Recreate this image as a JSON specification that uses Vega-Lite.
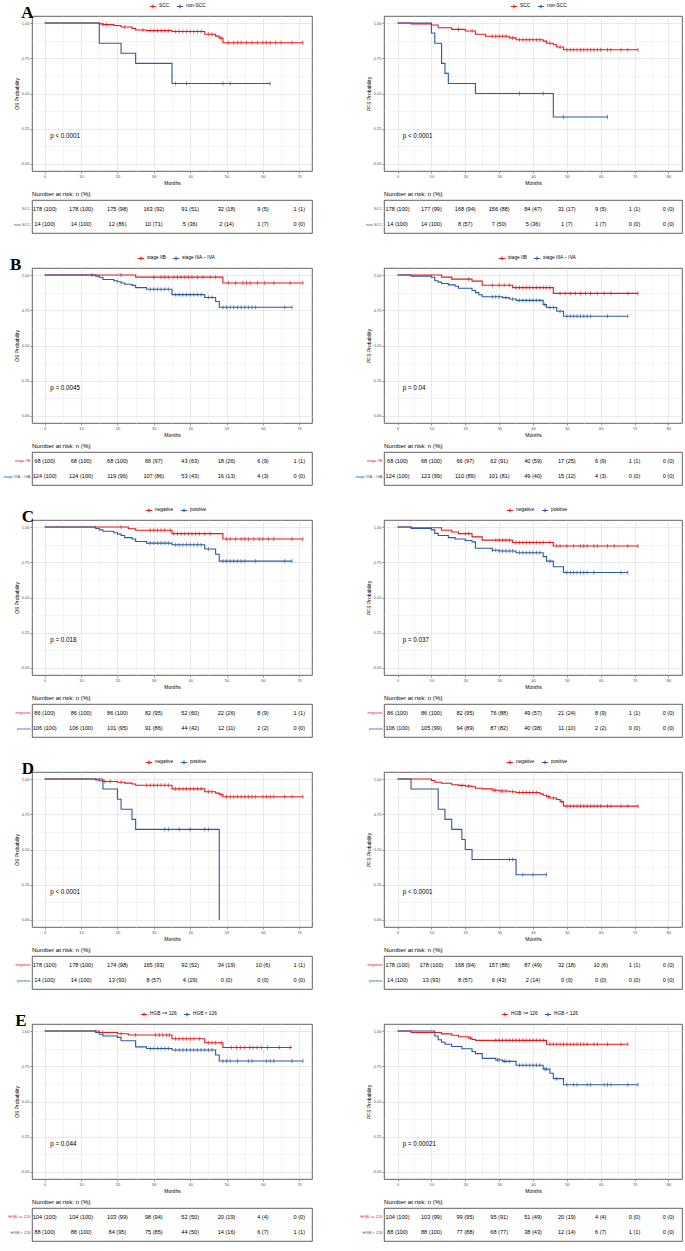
{
"$schema":"https://vega.github.io/schema/vega-lite/v6.json",
"padding":{"left":2,"top":1,"right":1,"bottom":0},
"background":"white",
"config":{
 "font":"Liberation Sans",
 "view":{"stroke":"#3a3a3a","strokeWidth":0.8},
 "axis":{"labelFontSize":4,"labelColor":"#4D4D4D","labelOverlap":false,"labelFlush":false,"titleFontSize":5,"titleFontWeight":"normal","titleColor":"#000","tickColor":"#333","tickSize":2,"tickWidth":0.5,"domain":false,"labelPadding":1,"titlePadding":2,"gridWidth":0.6},
 "legend":{"orient":"none","direction":"horizontal","legendY":-14,"symbolType":"M-1,0L1,0M0,-0.6L0,0.6","symbolSize":40,"symbolStrokeWidth":1,"labelFontSize":4.8,"columnPadding":4,"labelOffset":2},
 "title":{"anchor":"start","frame":"group","fontSize":6.2,"fontWeight":"normal","offset":3,"color":"#000"},
 "line":{"interpolate":"step-after","strokeWidth":1.1},
 "point":{"shape":"M0,-1L0,1","filled":false,"size":16,"strokeWidth":0.7,"opacity":1},
 "text":{"fontSize":5.6,"color":"#000"}
},
"columns":2,
"spacing":{"row":19,"column":41},
"align":"each",
"resolve":{"scale":{"color":"independent","x":"independent","y":"independent"},"legend":{"color":"independent"}},
"datasets":{
"pval":[{"p":"A_OS","label":"p < 0.0001"},{"p":"A_PFS","label":"p < 0.0001"},{"p":"B_OS","label":"p = 0.0045"},{"p":"B_PFS","label":"p = 0.04"},{"p":"C_OS","label":"p = 0.018"},{"p":"C_PFS","label":"p = 0.037"},{"p":"D_OS","label":"p < 0.0001"},{"p":"D_PFS","label":"p < 0.0001"},{"p":"E_OS","label":"p = 0.044"},{"p":"E_PFS","label":"p = 0.00021"}],
"A_OS":[{"g":"SCC","t":0,"s":1},{"g":"SCC","t":15,"s":0.994},{"g":"SCC","t":16,"s":0.989},{"g":"SCC","t":19,"s":0.983},{"g":"SCC","t":21,"s":0.972},{"g":"SCC","t":24,"s":0.962},{"g":"SCC","t":25,"s":0.951},{"g":"SCC","t":28,"s":0.946},{"g":"SCC","t":35,"s":0.94},{"g":"SCC","t":44,"s":0.921},{"g":"SCC","t":47,"s":0.907},{"g":"SCC","t":48,"s":0.893},{"g":"SCC","t":49,"s":0.86},{"g":"SCC","t":71,"s":0.86},
{"g":"non-SCC","t":0,"s":1},{"g":"non-SCC","t":15,"s":0.857},{"g":"non-SCC","t":21,"s":0.786},{"g":"non-SCC","t":25,"s":0.714},{"g":"non-SCC","t":35,"s":0.571},{"g":"non-SCC","t":62,"s":0.571}],
"A_OS_c":[{"g":"SCC","t":16,"s":0.989},{"g":"SCC","t":17,"s":0.989},{"g":"SCC","t":22,"s":0.972},{"g":"SCC","t":27,"s":0.951},{"g":"SCC","t":29,"s":0.946},{"g":"SCC","t":30,"s":0.946},{"g":"SCC","t":31,"s":0.946},{"g":"SCC","t":32,"s":0.946},{"g":"SCC","t":33,"s":0.946},{"g":"SCC","t":34,"s":0.946},{"g":"SCC","t":36,"s":0.94},{"g":"SCC","t":37,"s":0.94},{"g":"SCC","t":38,"s":0.94},{"g":"SCC","t":39,"s":0.94},{"g":"SCC","t":40,"s":0.94},{"g":"SCC","t":41,"s":0.94},{"g":"SCC","t":42,"s":0.94},{"g":"SCC","t":43,"s":0.94},{"g":"SCC","t":45,"s":0.921},{"g":"SCC","t":46,"s":0.921},{"g":"SCC","t":48.5,"s":0.893},{"g":"SCC","t":50.5,"s":0.86},{"g":"SCC","t":52,"s":0.86},{"g":"SCC","t":53,"s":0.86},{"g":"SCC","t":54,"s":0.86},{"g":"SCC","t":55.5,"s":0.86},{"g":"SCC","t":57,"s":0.86},{"g":"SCC","t":58.5,"s":0.86},{"g":"SCC","t":60,"s":0.86},{"g":"SCC","t":61,"s":0.86},{"g":"SCC","t":62,"s":0.86},{"g":"SCC","t":63.5,"s":0.86},{"g":"SCC","t":65,"s":0.86},{"g":"SCC","t":68,"s":0.86},{"g":"SCC","t":71,"s":0.86},
{"g":"non-SCC","t":36,"s":0.571},{"g":"non-SCC","t":39,"s":0.571},{"g":"non-SCC","t":49,"s":0.571},{"g":"non-SCC","t":51,"s":0.571},{"g":"non-SCC","t":62,"s":0.571}],
"A_OS_r":[{"g":"SCC","t":0,"n":"178 (100)"},{"g":"SCC","t":10,"n":"178 (100)"},{"g":"SCC","t":20,"n":"175 (98)"},{"g":"SCC","t":30,"n":"163 (92)"},{"g":"SCC","t":40,"n":"91 (51)"},{"g":"SCC","t":50,"n":"32 (18)"},{"g":"SCC","t":60,"n":"9 (5)"},{"g":"SCC","t":70,"n":"1 (1)"},
{"g":"non-SCC","t":0,"n":"14 (100)"},{"g":"non-SCC","t":10,"n":"14 (100)"},{"g":"non-SCC","t":20,"n":"12 (86)"},{"g":"non-SCC","t":30,"n":"10 (71)"},{"g":"non-SCC","t":40,"n":"5 (36)"},{"g":"non-SCC","t":50,"n":"2 (14)"},{"g":"non-SCC","t":60,"n":"1 (7)"},{"g":"non-SCC","t":70,"n":"0 (0)"}],
"A_PFS":[{"g":"SCC","t":0,"s":1},{"g":"SCC","t":4,"s":0.994},{"g":"SCC","t":10,"s":0.986},{"g":"SCC","t":12,"s":0.967},{"g":"SCC","t":16,"s":0.955},{"g":"SCC","t":20,"s":0.944},{"g":"SCC","t":23,"s":0.92},{"g":"SCC","t":26,"s":0.906},{"g":"SCC","t":33,"s":0.895},{"g":"SCC","t":35,"s":0.881},{"g":"SCC","t":43,"s":0.872},{"g":"SCC","t":44,"s":0.857},{"g":"SCC","t":46,"s":0.846},{"g":"SCC","t":47,"s":0.83},{"g":"SCC","t":49,"s":0.81},{"g":"SCC","t":71,"s":0.81},
{"g":"non-SCC","t":0,"s":1},{"g":"non-SCC","t":10,"s":0.929},{"g":"non-SCC","t":11,"s":0.857},{"g":"non-SCC","t":13,"s":0.714},{"g":"non-SCC","t":14,"s":0.643},{"g":"non-SCC","t":15,"s":0.571},{"g":"non-SCC","t":23,"s":0.5},{"g":"non-SCC","t":46,"s":0.333},{"g":"non-SCC","t":62,"s":0.333}],
"A_PFS_c":[{"g":"SCC","t":18,"s":0.955},{"g":"SCC","t":22,"s":0.944},{"g":"SCC","t":28,"s":0.906},{"g":"SCC","t":29,"s":0.906},{"g":"SCC","t":30,"s":0.906},{"g":"SCC","t":31,"s":0.906},{"g":"SCC","t":32,"s":0.906},{"g":"SCC","t":34,"s":0.895},{"g":"SCC","t":36,"s":0.881},{"g":"SCC","t":37,"s":0.881},{"g":"SCC","t":38,"s":0.881},{"g":"SCC","t":39,"s":0.881},{"g":"SCC","t":40,"s":0.881},{"g":"SCC","t":41,"s":0.881},{"g":"SCC","t":42,"s":0.881},{"g":"SCC","t":45,"s":0.857},{"g":"SCC","t":48,"s":0.83},{"g":"SCC","t":50,"s":0.81},{"g":"SCC","t":51,"s":0.81},{"g":"SCC","t":52,"s":0.81},{"g":"SCC","t":53,"s":0.81},{"g":"SCC","t":54,"s":0.81},{"g":"SCC","t":55,"s":0.81},{"g":"SCC","t":56,"s":0.81},{"g":"SCC","t":57,"s":0.81},{"g":"SCC","t":58,"s":0.81},{"g":"SCC","t":59,"s":0.81},{"g":"SCC","t":60,"s":0.81},{"g":"SCC","t":62,"s":0.81},{"g":"SCC","t":63,"s":0.81},{"g":"SCC","t":66,"s":0.81},{"g":"SCC","t":68,"s":0.81},{"g":"SCC","t":71,"s":0.81},
{"g":"non-SCC","t":36,"s":0.5},{"g":"non-SCC","t":43,"s":0.5},{"g":"non-SCC","t":49,"s":0.333},{"g":"non-SCC","t":62,"s":0.333}],
"A_PFS_r":[{"g":"SCC","t":0,"n":"178 (100)"},{"g":"SCC","t":10,"n":"177 (99)"},{"g":"SCC","t":20,"n":"168 (94)"},{"g":"SCC","t":30,"n":"156 (88)"},{"g":"SCC","t":40,"n":"84 (47)"},{"g":"SCC","t":50,"n":"31 (17)"},{"g":"SCC","t":60,"n":"9 (5)"},{"g":"SCC","t":70,"n":"1 (1)"},{"g":"SCC","t":80,"n":"0 (0)"},
{"g":"non-SCC","t":0,"n":"14 (100)"},{"g":"non-SCC","t":10,"n":"14 (100)"},{"g":"non-SCC","t":20,"n":"8 (57)"},{"g":"non-SCC","t":30,"n":"7 (50)"},{"g":"non-SCC","t":40,"n":"5 (36)"},{"g":"non-SCC","t":50,"n":"1 (7)"},{"g":"non-SCC","t":60,"n":"1 (7)"},{"g":"non-SCC","t":70,"n":"0 (0)"},{"g":"non-SCC","t":80,"n":"0 (0)"}],
"B_OS":[{"g":"stage IIB","t":0,"s":1},{"g":"stage IIB","t":25,"s":0.985},{"g":"stage IIB","t":49,"s":0.944},{"g":"stage IIB","t":71,"s":0.944},
{"g":"stage IIIA – IVA","t":0,"s":1},{"g":"stage IIIA – IVA","t":14,"s":0.992},{"g":"stage IIIA – IVA","t":15,"s":0.984},{"g":"stage IIIA – IVA","t":16,"s":0.968},{"g":"stage IIIA – IVA","t":19,"s":0.96},{"g":"stage IIIA – IVA","t":20,"s":0.952},{"g":"stage IIIA – IVA","t":21,"s":0.944},{"g":"stage IIIA – IVA","t":22,"s":0.935},{"g":"stage IIIA – IVA","t":24,"s":0.927},{"g":"stage IIIA – IVA","t":25,"s":0.911},{"g":"stage IIIA – IVA","t":28,"s":0.899},{"g":"stage IIIA – IVA","t":35,"s":0.861},{"g":"stage IIIA – IVA","t":44,"s":0.841},{"g":"stage IIIA – IVA","t":47,"s":0.812},{"g":"stage IIIA – IVA","t":48,"s":0.771},{"g":"stage IIIA – IVA","t":68,"s":0.771}],
"B_OS_c":[{"g":"stage IIB","t":13,"s":1},{"g":"stage IIB","t":21,"s":1},{"g":"stage IIB","t":30,"s":0.985},{"g":"stage IIB","t":32,"s":0.985},{"g":"stage IIB","t":33,"s":0.985},{"g":"stage IIB","t":34,"s":0.985},{"g":"stage IIB","t":35.5,"s":0.985},{"g":"stage IIB","t":36.5,"s":0.985},{"g":"stage IIB","t":37.5,"s":0.985},{"g":"stage IIB","t":38.5,"s":0.985},{"g":"stage IIB","t":39.5,"s":0.985},{"g":"stage IIB","t":40.5,"s":0.985},{"g":"stage IIB","t":42,"s":0.985},{"g":"stage IIB","t":43.5,"s":0.985},{"g":"stage IIB","t":45.5,"s":0.985},{"g":"stage IIB","t":47,"s":0.985},{"g":"stage IIB","t":50.5,"s":0.944},{"g":"stage IIB","t":52.5,"s":0.944},{"g":"stage IIB","t":54.5,"s":0.944},{"g":"stage IIB","t":55.5,"s":0.944},{"g":"stage IIB","t":56.5,"s":0.944},{"g":"stage IIB","t":58.5,"s":0.944},{"g":"stage IIB","t":60.5,"s":0.944},{"g":"stage IIB","t":63,"s":0.944},{"g":"stage IIB","t":67.5,"s":0.944},{"g":"stage IIB","t":71,"s":0.944},
{"g":"stage IIIA – IVA","t":29,"s":0.899},{"g":"stage IIIA – IVA","t":30,"s":0.899},{"g":"stage IIIA – IVA","t":31,"s":0.899},{"g":"stage IIIA – IVA","t":32,"s":0.899},{"g":"stage IIIA – IVA","t":33,"s":0.899},{"g":"stage IIIA – IVA","t":34,"s":0.899},{"g":"stage IIIA – IVA","t":36,"s":0.861},{"g":"stage IIIA – IVA","t":37,"s":0.861},{"g":"stage IIIA – IVA","t":38,"s":0.861},{"g":"stage IIIA – IVA","t":39,"s":0.861},{"g":"stage IIIA – IVA","t":40,"s":0.861},{"g":"stage IIIA – IVA","t":41,"s":0.861},{"g":"stage IIIA – IVA","t":42,"s":0.861},{"g":"stage IIIA – IVA","t":43,"s":0.861},{"g":"stage IIIA – IVA","t":45,"s":0.841},{"g":"stage IIIA – IVA","t":46,"s":0.841},{"g":"stage IIIA – IVA","t":49,"s":0.771},{"g":"stage IIIA – IVA","t":50,"s":0.771},{"g":"stage IIIA – IVA","t":51,"s":0.771},{"g":"stage IIIA – IVA","t":52,"s":0.771},{"g":"stage IIIA – IVA","t":53,"s":0.771},{"g":"stage IIIA – IVA","t":54,"s":0.771},{"g":"stage IIIA – IVA","t":55,"s":0.771},{"g":"stage IIIA – IVA","t":56,"s":0.771},{"g":"stage IIIA – IVA","t":57,"s":0.771},{"g":"stage IIIA – IVA","t":58,"s":0.771},{"g":"stage IIIA – IVA","t":66,"s":0.771},{"g":"stage IIIA – IVA","t":68,"s":0.771}],
"B_OS_r":[{"g":"stage IIB","t":0,"n":"68 (100)"},{"g":"stage IIB","t":10,"n":"68 (100)"},{"g":"stage IIB","t":20,"n":"68 (100)"},{"g":"stage IIB","t":30,"n":"66 (97)"},{"g":"stage IIB","t":40,"n":"43 (63)"},{"g":"stage IIB","t":50,"n":"18 (26)"},{"g":"stage IIB","t":60,"n":"6 (9)"},{"g":"stage IIB","t":70,"n":"1 (1)"},
{"g":"stage IIIA – IVA","t":0,"n":"124 (100)"},{"g":"stage IIIA – IVA","t":10,"n":"124 (100)"},{"g":"stage IIIA – IVA","t":20,"n":"119 (96)"},{"g":"stage IIIA – IVA","t":30,"n":"107 (86)"},{"g":"stage IIIA – IVA","t":40,"n":"53 (43)"},{"g":"stage IIIA – IVA","t":50,"n":"16 (13)"},{"g":"stage IIIA – IVA","t":60,"n":"4 (3)"},{"g":"stage IIIA – IVA","t":70,"n":"0 (0)"}],
"B_PFS":[{"g":"stage IIB","t":0,"s":1},{"g":"stage IIB","t":13,"s":0.985},{"g":"stage IIB","t":16,"s":0.971},{"g":"stage IIB","t":22,"s":0.957},{"g":"stage IIB","t":25,"s":0.928},{"g":"stage IIB","t":34,"s":0.911},{"g":"stage IIB","t":46,"s":0.87},{"g":"stage IIB","t":71,"s":0.87},
{"g":"stage IIIA – IVA","t":0,"s":1},{"g":"stage IIIA – IVA","t":4,"s":0.992},{"g":"stage IIIA – IVA","t":10,"s":0.984},{"g":"stage IIIA – IVA","t":11,"s":0.96},{"g":"stage IIIA – IVA","t":12,"s":0.95},{"g":"stage IIIA – IVA","t":13,"s":0.94},{"g":"stage IIIA – IVA","t":15,"s":0.93},{"g":"stage IIIA – IVA","t":17,"s":0.92},{"g":"stage IIIA – IVA","t":18,"s":0.906},{"g":"stage IIIA – IVA","t":22,"s":0.89},{"g":"stage IIIA – IVA","t":23,"s":0.875},{"g":"stage IIIA – IVA","t":24,"s":0.86},{"g":"stage IIIA – IVA","t":25,"s":0.846},{"g":"stage IIIA – IVA","t":31,"s":0.84},{"g":"stage IIIA – IVA","t":33,"s":0.83},{"g":"stage IIIA – IVA","t":35,"s":0.82},{"g":"stage IIIA – IVA","t":43,"s":0.79},{"g":"stage IIIA – IVA","t":44,"s":0.77},{"g":"stage IIIA – IVA","t":47,"s":0.743},{"g":"stage IIIA – IVA","t":49,"s":0.708},{"g":"stage IIIA – IVA","t":68,"s":0.708}],
"B_PFS_c":[{"g":"stage IIB","t":21,"s":0.971},{"g":"stage IIB","t":28,"s":0.928},{"g":"stage IIB","t":30,"s":0.928},{"g":"stage IIB","t":31.5,"s":0.928},{"g":"stage IIB","t":33,"s":0.928},{"g":"stage IIB","t":35,"s":0.911},{"g":"stage IIB","t":36,"s":0.911},{"g":"stage IIB","t":37,"s":0.911},{"g":"stage IIB","t":38,"s":0.911},{"g":"stage IIB","t":39,"s":0.911},{"g":"stage IIB","t":40,"s":0.911},{"g":"stage IIB","t":41,"s":0.911},{"g":"stage IIB","t":42,"s":0.911},{"g":"stage IIB","t":43,"s":0.911},{"g":"stage IIB","t":44,"s":0.911},{"g":"stage IIB","t":45,"s":0.911},{"g":"stage IIB","t":48,"s":0.87},{"g":"stage IIB","t":49.5,"s":0.87},{"g":"stage IIB","t":51,"s":0.87},{"g":"stage IIB","t":52.5,"s":0.87},{"g":"stage IIB","t":54,"s":0.87},{"g":"stage IIB","t":55.5,"s":0.87},{"g":"stage IIB","t":57,"s":0.87},{"g":"stage IIB","t":59,"s":0.87},{"g":"stage IIB","t":61,"s":0.87},{"g":"stage IIB","t":63,"s":0.87},{"g":"stage IIB","t":68,"s":0.87},{"g":"stage IIB","t":71,"s":0.87},
{"g":"stage IIIA – IVA","t":28,"s":0.846},{"g":"stage IIIA – IVA","t":29,"s":0.846},{"g":"stage IIIA – IVA","t":30,"s":0.846},{"g":"stage IIIA – IVA","t":32,"s":0.84},{"g":"stage IIIA – IVA","t":34,"s":0.83},{"g":"stage IIIA – IVA","t":36,"s":0.82},{"g":"stage IIIA – IVA","t":37,"s":0.82},{"g":"stage IIIA – IVA","t":38,"s":0.82},{"g":"stage IIIA – IVA","t":39,"s":0.82},{"g":"stage IIIA – IVA","t":40,"s":0.82},{"g":"stage IIIA – IVA","t":41,"s":0.82},{"g":"stage IIIA – IVA","t":42,"s":0.82},{"g":"stage IIIA – IVA","t":43.5,"s":0.79},{"g":"stage IIIA – IVA","t":45,"s":0.77},{"g":"stage IIIA – IVA","t":46,"s":0.77},{"g":"stage IIIA – IVA","t":48,"s":0.743},{"g":"stage IIIA – IVA","t":50,"s":0.708},{"g":"stage IIIA – IVA","t":51,"s":0.708},{"g":"stage IIIA – IVA","t":52,"s":0.708},{"g":"stage IIIA – IVA","t":53,"s":0.708},{"g":"stage IIIA – IVA","t":54,"s":0.708},{"g":"stage IIIA – IVA","t":55,"s":0.708},{"g":"stage IIIA – IVA","t":56,"s":0.708},{"g":"stage IIIA – IVA","t":57,"s":0.708},{"g":"stage IIIA – IVA","t":62,"s":0.708},{"g":"stage IIIA – IVA","t":68,"s":0.708}],
"B_PFS_r":[{"g":"stage IIB","t":0,"n":"68 (100)"},{"g":"stage IIB","t":10,"n":"68 (100)"},{"g":"stage IIB","t":20,"n":"66 (97)"},{"g":"stage IIB","t":30,"n":"62 (91)"},{"g":"stage IIB","t":40,"n":"40 (59)"},{"g":"stage IIB","t":50,"n":"17 (25)"},{"g":"stage IIB","t":60,"n":"6 (9)"},{"g":"stage IIB","t":70,"n":"1 (1)"},{"g":"stage IIB","t":80,"n":"0 (0)"},
{"g":"stage IIIA – IVA","t":0,"n":"124 (100)"},{"g":"stage IIIA – IVA","t":10,"n":"123 (99)"},{"g":"stage IIIA – IVA","t":20,"n":"110 (89)"},{"g":"stage IIIA – IVA","t":30,"n":"101 (81)"},{"g":"stage IIIA – IVA","t":40,"n":"49 (40)"},{"g":"stage IIIA – IVA","t":50,"n":"15 (12)"},{"g":"stage IIIA – IVA","t":60,"n":"4 (3)"},{"g":"stage IIIA – IVA","t":70,"n":"0 (0)"},{"g":"stage IIIA – IVA","t":80,"n":"0 (0)"}],
"C_OS":[{"g":"negative","t":0,"s":1},{"g":"negative","t":23,"s":0.988},{"g":"negative","t":25,"s":0.977},{"g":"negative","t":35,"s":0.953},{"g":"negative","t":49,"s":0.915},{"g":"negative","t":71,"s":0.915},
{"g":"positive","t":0,"s":1},{"g":"positive","t":14,"s":0.99},{"g":"positive","t":15,"s":0.98},{"g":"positive","t":16,"s":0.97},{"g":"positive","t":19,"s":0.96},{"g":"positive","t":20,"s":0.95},{"g":"positive","t":21,"s":0.94},{"g":"positive","t":22,"s":0.925},{"g":"positive","t":24,"s":0.915},{"g":"positive","t":25,"s":0.897},{"g":"positive","t":28,"s":0.886},{"g":"positive","t":35,"s":0.874},{"g":"positive","t":44,"s":0.844},{"g":"positive","t":47,"s":0.807},{"g":"positive","t":48,"s":0.758},{"g":"positive","t":68,"s":0.758}],
"C_OS_c":[{"g":"negative","t":21,"s":1},{"g":"negative","t":29,"s":0.977},{"g":"negative","t":30,"s":0.977},{"g":"negative","t":31,"s":0.977},{"g":"negative","t":32,"s":0.977},{"g":"negative","t":33,"s":0.977},{"g":"negative","t":34.5,"s":0.977},{"g":"negative","t":35.5,"s":0.953},{"g":"negative","t":36.5,"s":0.953},{"g":"negative","t":37.5,"s":0.953},{"g":"negative","t":38.5,"s":0.953},{"g":"negative","t":39.5,"s":0.953},{"g":"negative","t":40.5,"s":0.953},{"g":"negative","t":41.5,"s":0.953},{"g":"negative","t":42.5,"s":0.953},{"g":"negative","t":44,"s":0.953},{"g":"negative","t":45.5,"s":0.953},{"g":"negative","t":50,"s":0.915},{"g":"negative","t":51,"s":0.915},{"g":"negative","t":52.5,"s":0.915},{"g":"negative","t":54,"s":0.915},{"g":"negative","t":55,"s":0.915},{"g":"negative","t":56,"s":0.915},{"g":"negative","t":57.5,"s":0.915},{"g":"negative","t":59,"s":0.915},{"g":"negative","t":60,"s":0.915},{"g":"negative","t":61.5,"s":0.915},{"g":"negative","t":63,"s":0.915},{"g":"negative","t":68,"s":0.915},{"g":"negative","t":71,"s":0.915},
{"g":"positive","t":29,"s":0.886},{"g":"positive","t":30,"s":0.886},{"g":"positive","t":31,"s":0.886},{"g":"positive","t":32,"s":0.886},{"g":"positive","t":33,"s":0.886},{"g":"positive","t":34,"s":0.886},{"g":"positive","t":36,"s":0.874},{"g":"positive","t":37,"s":0.874},{"g":"positive","t":38,"s":0.874},{"g":"positive","t":39,"s":0.874},{"g":"positive","t":40,"s":0.874},{"g":"positive","t":41,"s":0.874},{"g":"positive","t":42,"s":0.874},{"g":"positive","t":43,"s":0.874},{"g":"positive","t":45,"s":0.844},{"g":"positive","t":49,"s":0.758},{"g":"positive","t":50,"s":0.758},{"g":"positive","t":51,"s":0.758},{"g":"positive","t":52,"s":0.758},{"g":"positive","t":53,"s":0.758},{"g":"positive","t":54,"s":0.758},{"g":"positive","t":55,"s":0.758},{"g":"positive","t":58,"s":0.758},{"g":"positive","t":66,"s":0.758},{"g":"positive","t":68,"s":0.758}],
"C_OS_r":[{"g":"negative","t":0,"n":"86 (100)"},{"g":"negative","t":10,"n":"86 (100)"},{"g":"negative","t":20,"n":"86 (100)"},{"g":"negative","t":30,"n":"82 (95)"},{"g":"negative","t":40,"n":"52 (60)"},{"g":"negative","t":50,"n":"22 (26)"},{"g":"negative","t":60,"n":"8 (9)"},{"g":"negative","t":70,"n":"1 (1)"},
{"g":"positive","t":0,"n":"106 (100)"},{"g":"positive","t":10,"n":"106 (100)"},{"g":"positive","t":20,"n":"101 (95)"},{"g":"positive","t":30,"n":"91 (86)"},{"g":"positive","t":40,"n":"44 (42)"},{"g":"positive","t":50,"n":"12 (11)"},{"g":"positive","t":60,"n":"2 (2)"},{"g":"positive","t":70,"n":"0 (0)"}],
"C_PFS":[{"g":"negative","t":0,"s":1},{"g":"negative","t":4,"s":0.995},{"g":"negative","t":13,"s":0.977},{"g":"negative","t":16,"s":0.965},{"g":"negative","t":18,"s":0.953},{"g":"negative","t":22,"s":0.93},{"g":"negative","t":25,"s":0.907},{"g":"negative","t":34,"s":0.89},{"g":"negative","t":46,"s":0.865},{"g":"negative","t":71,"s":0.865},
{"g":"positive","t":0,"s":1},{"g":"positive","t":4,"s":0.99},{"g":"positive","t":10,"s":0.98},{"g":"positive","t":11,"s":0.955},{"g":"positive","t":12,"s":0.94},{"g":"positive","t":15,"s":0.925},{"g":"positive","t":17,"s":0.915},{"g":"positive","t":20,"s":0.905},{"g":"positive","t":22,"s":0.895},{"g":"positive","t":23,"s":0.85},{"g":"positive","t":28,"s":0.835},{"g":"positive","t":30,"s":0.83},{"g":"positive","t":35,"s":0.818},{"g":"positive","t":43,"s":0.79},{"g":"positive","t":44,"s":0.758},{"g":"positive","t":46,"s":0.718},{"g":"positive","t":49,"s":0.677},{"g":"positive","t":68,"s":0.677}],
"C_PFS_c":[{"g":"negative","t":20,"s":0.953},{"g":"negative","t":21,"s":0.953},{"g":"negative","t":29,"s":0.907},{"g":"negative","t":30,"s":0.907},{"g":"negative","t":31,"s":0.907},{"g":"negative","t":32,"s":0.907},{"g":"negative","t":33,"s":0.907},{"g":"negative","t":35,"s":0.89},{"g":"negative","t":36,"s":0.89},{"g":"negative","t":37,"s":0.89},{"g":"negative","t":38,"s":0.89},{"g":"negative","t":39,"s":0.89},{"g":"negative","t":40,"s":0.89},{"g":"negative","t":41,"s":0.89},{"g":"negative","t":42,"s":0.89},{"g":"negative","t":43,"s":0.89},{"g":"negative","t":45,"s":0.89},{"g":"negative","t":47,"s":0.865},{"g":"negative","t":48,"s":0.865},{"g":"negative","t":50,"s":0.865},{"g":"negative","t":52,"s":0.865},{"g":"negative","t":54,"s":0.865},{"g":"negative","t":55,"s":0.865},{"g":"negative","t":56,"s":0.865},{"g":"negative","t":58,"s":0.865},{"g":"negative","t":59,"s":0.865},{"g":"negative","t":62,"s":0.865},{"g":"negative","t":64,"s":0.865},{"g":"negative","t":68,"s":0.865},{"g":"negative","t":71,"s":0.865},
{"g":"positive","t":28,"s":0.835},{"g":"positive","t":29,"s":0.835},{"g":"positive","t":30,"s":0.83},{"g":"positive","t":31,"s":0.83},{"g":"positive","t":32,"s":0.83},{"g":"positive","t":33,"s":0.83},{"g":"positive","t":34,"s":0.83},{"g":"positive","t":36,"s":0.818},{"g":"positive","t":37,"s":0.818},{"g":"positive","t":38,"s":0.818},{"g":"positive","t":39,"s":0.818},{"g":"positive","t":40,"s":0.818},{"g":"positive","t":41,"s":0.818},{"g":"positive","t":42,"s":0.818},{"g":"positive","t":45,"s":0.758},{"g":"positive","t":50,"s":0.677},{"g":"positive","t":51,"s":0.677},{"g":"positive","t":52,"s":0.677},{"g":"positive","t":53,"s":0.677},{"g":"positive","t":54,"s":0.677},{"g":"positive","t":55,"s":0.677},{"g":"positive","t":56,"s":0.677},{"g":"positive","t":58,"s":0.677},{"g":"positive","t":66,"s":0.677},{"g":"positive","t":68,"s":0.677}],
"C_PFS_r":[{"g":"negative","t":0,"n":"86 (100)"},{"g":"negative","t":10,"n":"86 (100)"},{"g":"negative","t":20,"n":"82 (95)"},{"g":"negative","t":30,"n":"76 (88)"},{"g":"negative","t":40,"n":"49 (57)"},{"g":"negative","t":50,"n":"21 (24)"},{"g":"negative","t":60,"n":"8 (9)"},{"g":"negative","t":70,"n":"1 (1)"},{"g":"negative","t":80,"n":"0 (0)"},
{"g":"positive","t":0,"n":"106 (100)"},{"g":"positive","t":10,"n":"105 (99)"},{"g":"positive","t":20,"n":"94 (89)"},{"g":"positive","t":30,"n":"87 (82)"},{"g":"positive","t":40,"n":"40 (38)"},{"g":"positive","t":50,"n":"11 (10)"},{"g":"positive","t":60,"n":"2 (2)"},{"g":"positive","t":70,"n":"0 (0)"},{"g":"positive","t":80,"n":"0 (0)"}],
"D_OS":[{"g":"negative","t":0,"s":1},{"g":"negative","t":14,"s":0.994},{"g":"negative","t":15,"s":0.988},{"g":"negative","t":16,"s":0.983},{"g":"negative","t":20,"s":0.977},{"g":"negative","t":22,"s":0.971},{"g":"negative","t":24,"s":0.965},{"g":"negative","t":25,"s":0.956},{"g":"negative","t":35,"s":0.93},{"g":"negative","t":44,"s":0.91},{"g":"negative","t":47,"s":0.9},{"g":"negative","t":48,"s":0.89},{"g":"negative","t":49,"s":0.874},{"g":"negative","t":71,"s":0.874},
{"g":"positive","t":0,"s":1},{"g":"positive","t":16,"s":0.929},{"g":"positive","t":20,"s":0.857},{"g":"positive","t":21,"s":0.786},{"g":"positive","t":24,"s":0.714},{"g":"positive","t":25,"s":0.643},{"g":"positive","t":48,"s":0}],
"D_OS_c":[{"g":"negative","t":16.5,"s":0.983},{"g":"negative","t":18,"s":0.983},{"g":"negative","t":21,"s":0.977},{"g":"negative","t":28,"s":0.956},{"g":"negative","t":29,"s":0.956},{"g":"negative","t":30,"s":0.956},{"g":"negative","t":31,"s":0.956},{"g":"negative","t":32,"s":0.956},{"g":"negative","t":33,"s":0.956},{"g":"negative","t":34,"s":0.956},{"g":"negative","t":36,"s":0.93},{"g":"negative","t":37,"s":0.93},{"g":"negative","t":38,"s":0.93},{"g":"negative","t":39,"s":0.93},{"g":"negative","t":40,"s":0.93},{"g":"negative","t":41,"s":0.93},{"g":"negative","t":42,"s":0.93},{"g":"negative","t":43,"s":0.93},{"g":"negative","t":45,"s":0.91},{"g":"negative","t":46,"s":0.91},{"g":"negative","t":48.5,"s":0.89},{"g":"negative","t":50,"s":0.874},{"g":"negative","t":51,"s":0.874},{"g":"negative","t":52,"s":0.874},{"g":"negative","t":53,"s":0.874},{"g":"negative","t":54,"s":0.874},{"g":"negative","t":55,"s":0.874},{"g":"negative","t":56,"s":0.874},{"g":"negative","t":57,"s":0.874},{"g":"negative","t":58,"s":0.874},{"g":"negative","t":60,"s":0.874},{"g":"negative","t":61,"s":0.874},{"g":"negative","t":62,"s":0.874},{"g":"negative","t":63,"s":0.874},{"g":"negative","t":66,"s":0.874},{"g":"negative","t":68,"s":0.874},{"g":"negative","t":71,"s":0.874},
{"g":"positive","t":33,"s":0.643},{"g":"positive","t":34,"s":0.643},{"g":"positive","t":37,"s":0.643},{"g":"positive","t":40,"s":0.643},{"g":"positive","t":44,"s":0.643},{"g":"positive","t":45,"s":0.643}],
"D_OS_r":[{"g":"negative","t":0,"n":"178 (100)"},{"g":"negative","t":10,"n":"178 (100)"},{"g":"negative","t":20,"n":"174 (98)"},{"g":"negative","t":30,"n":"165 (93)"},{"g":"negative","t":40,"n":"92 (52)"},{"g":"negative","t":50,"n":"34 (19)"},{"g":"negative","t":60,"n":"10 (6)"},{"g":"negative","t":70,"n":"1 (1)"},
{"g":"positive","t":0,"n":"14 (100)"},{"g":"positive","t":10,"n":"14 (100)"},{"g":"positive","t":20,"n":"13 (93)"},{"g":"positive","t":30,"n":"8 (57)"},{"g":"positive","t":40,"n":"4 (29)"},{"g":"positive","t":50,"n":"0 (0)"},{"g":"positive","t":60,"n":"0 (0)"},{"g":"positive","t":70,"n":"0 (0)"}],
"D_PFS":[{"g":"negative","t":0,"s":1},{"g":"negative","t":10,"s":0.99},{"g":"negative","t":11,"s":0.977},{"g":"negative","t":13,"s":0.97},{"g":"negative","t":16,"s":0.96},{"g":"negative","t":18,"s":0.955},{"g":"negative","t":20,"s":0.95},{"g":"negative","t":22,"s":0.945},{"g":"negative","t":23,"s":0.935},{"g":"negative","t":25,"s":0.93},{"g":"negative","t":28,"s":0.92},{"g":"negative","t":30,"s":0.915},{"g":"negative","t":33,"s":0.91},{"g":"negative","t":35,"s":0.905},{"g":"negative","t":42,"s":0.895},{"g":"negative","t":43,"s":0.885},{"g":"negative","t":44,"s":0.875},{"g":"negative","t":45,"s":0.865},{"g":"negative","t":47,"s":0.855},{"g":"negative","t":48,"s":0.84},{"g":"negative","t":49,"s":0.808},{"g":"negative","t":71,"s":0.808},
{"g":"positive","t":0,"s":1},{"g":"positive","t":4,"s":0.929},{"g":"positive","t":12,"s":0.786},{"g":"positive","t":14,"s":0.714},{"g":"positive","t":16,"s":0.643},{"g":"positive","t":19,"s":0.571},{"g":"positive","t":20,"s":0.5},{"g":"positive","t":22,"s":0.429},{"g":"positive","t":35,"s":0.321},{"g":"positive","t":44,"s":0.321}],
"D_PFS_c":[{"g":"negative","t":19,"s":0.955},{"g":"negative","t":21,"s":0.95},{"g":"negative","t":28.5,"s":0.92},{"g":"negative","t":29,"s":0.92},{"g":"negative","t":30.5,"s":0.915},{"g":"negative","t":31,"s":0.915},{"g":"negative","t":32,"s":0.915},{"g":"negative","t":34,"s":0.91},{"g":"negative","t":36,"s":0.905},{"g":"negative","t":37,"s":0.905},{"g":"negative","t":38,"s":0.905},{"g":"negative","t":39,"s":0.905},{"g":"negative","t":40,"s":0.905},{"g":"negative","t":41,"s":0.905},{"g":"negative","t":44.5,"s":0.875},{"g":"negative","t":46,"s":0.865},{"g":"negative","t":48.5,"s":0.84},{"g":"negative","t":50,"s":0.808},{"g":"negative","t":51,"s":0.808},{"g":"negative","t":52,"s":0.808},{"g":"negative","t":53,"s":0.808},{"g":"negative","t":54,"s":0.808},{"g":"negative","t":55,"s":0.808},{"g":"negative","t":56,"s":0.808},{"g":"negative","t":57,"s":0.808},{"g":"negative","t":58,"s":0.808},{"g":"negative","t":59,"s":0.808},{"g":"negative","t":60,"s":0.808},{"g":"negative","t":62,"s":0.808},{"g":"negative","t":63,"s":0.808},{"g":"negative","t":66,"s":0.808},{"g":"negative","t":68,"s":0.808},{"g":"negative","t":71,"s":0.808},
{"g":"positive","t":33,"s":0.429},{"g":"positive","t":34,"s":0.429},{"g":"positive","t":37,"s":0.321},{"g":"positive","t":40,"s":0.321},{"g":"positive","t":44,"s":0.321}],
"D_PFS_r":[{"g":"negative","t":0,"n":"178 (100)"},{"g":"negative","t":10,"n":"178 (100)"},{"g":"negative","t":20,"n":"168 (94)"},{"g":"negative","t":30,"n":"157 (88)"},{"g":"negative","t":40,"n":"87 (49)"},{"g":"negative","t":50,"n":"32 (18)"},{"g":"negative","t":60,"n":"10 (6)"},{"g":"negative","t":70,"n":"1 (1)"},{"g":"negative","t":80,"n":"0 (0)"},
{"g":"positive","t":0,"n":"14 (100)"},{"g":"positive","t":10,"n":"13 (93)"},{"g":"positive","t":20,"n":"8 (57)"},{"g":"positive","t":30,"n":"6 (43)"},{"g":"positive","t":40,"n":"2 (14)"},{"g":"positive","t":50,"n":"0 (0)"},{"g":"positive","t":60,"n":"0 (0)"},{"g":"positive","t":70,"n":"0 (0)"},{"g":"positive","t":80,"n":"0 (0)"}],
"E_OS":[{"g":"HGB >= 126","t":0,"s":1},{"g":"HGB >= 126","t":15,"s":0.99},{"g":"HGB >= 126","t":20,"s":0.981},{"g":"HGB >= 126","t":23,"s":0.972},{"g":"HGB >= 126","t":35,"s":0.945},{"g":"HGB >= 126","t":44,"s":0.917},{"g":"HGB >= 126","t":49,"s":0.883},{"g":"HGB >= 126","t":68,"s":0.883},
{"g":"HGB < 126","t":0,"s":1},{"g":"HGB < 126","t":14,"s":0.99},{"g":"HGB < 126","t":15,"s":0.977},{"g":"HGB < 126","t":16,"s":0.965},{"g":"HGB < 126","t":20,"s":0.955},{"g":"HGB < 126","t":21,"s":0.931},{"g":"HGB < 126","t":25,"s":0.888},{"g":"HGB < 126","t":28,"s":0.876},{"g":"HGB < 126","t":35,"s":0.865},{"g":"HGB < 126","t":47,"s":0.83},{"g":"HGB < 126","t":48,"s":0.787},{"g":"HGB < 126","t":71,"s":0.787}],
"E_OS_c":[{"g":"HGB >= 126","t":16,"s":0.99},{"g":"HGB >= 126","t":21,"s":0.981},{"g":"HGB >= 126","t":25,"s":0.972},{"g":"HGB >= 126","t":30.5,"s":0.972},{"g":"HGB >= 126","t":31.5,"s":0.972},{"g":"HGB >= 126","t":32.5,"s":0.972},{"g":"HGB >= 126","t":33.5,"s":0.972},{"g":"HGB >= 126","t":34.3,"s":0.972},{"g":"HGB >= 126","t":36,"s":0.945},{"g":"HGB >= 126","t":37,"s":0.945},{"g":"HGB >= 126","t":38,"s":0.945},{"g":"HGB >= 126","t":39,"s":0.945},{"g":"HGB >= 126","t":40,"s":0.945},{"g":"HGB >= 126","t":41,"s":0.945},{"g":"HGB >= 126","t":42.5,"s":0.945},{"g":"HGB >= 126","t":45,"s":0.917},{"g":"HGB >= 126","t":46,"s":0.917},{"g":"HGB >= 126","t":47,"s":0.917},{"g":"HGB >= 126","t":48.5,"s":0.917},{"g":"HGB >= 126","t":51.3,"s":0.883},{"g":"HGB >= 126","t":52.7,"s":0.883},{"g":"HGB >= 126","t":53.8,"s":0.883},{"g":"HGB >= 126","t":55,"s":0.883},{"g":"HGB >= 126","t":56.4,"s":0.883},{"g":"HGB >= 126","t":57.3,"s":0.883},{"g":"HGB >= 126","t":58.4,"s":0.883},{"g":"HGB >= 126","t":59.6,"s":0.883},{"g":"HGB >= 126","t":61.3,"s":0.883},{"g":"HGB >= 126","t":64.5,"s":0.883},{"g":"HGB >= 126","t":67.5,"s":0.883},
{"g":"HGB < 126","t":29,"s":0.876},{"g":"HGB < 126","t":30,"s":0.876},{"g":"HGB < 126","t":31,"s":0.876},{"g":"HGB < 126","t":32,"s":0.876},{"g":"HGB < 126","t":33,"s":0.876},{"g":"HGB < 126","t":34,"s":0.876},{"g":"HGB < 126","t":36,"s":0.865},{"g":"HGB < 126","t":37,"s":0.865},{"g":"HGB < 126","t":38,"s":0.865},{"g":"HGB < 126","t":39,"s":0.865},{"g":"HGB < 126","t":40,"s":0.865},{"g":"HGB < 126","t":41,"s":0.865},{"g":"HGB < 126","t":42,"s":0.865},{"g":"HGB < 126","t":43,"s":0.865},{"g":"HGB < 126","t":44,"s":0.865},{"g":"HGB < 126","t":45,"s":0.865},{"g":"HGB < 126","t":46,"s":0.865},{"g":"HGB < 126","t":49,"s":0.787},{"g":"HGB < 126","t":50,"s":0.787},{"g":"HGB < 126","t":51,"s":0.787},{"g":"HGB < 126","t":53,"s":0.787},{"g":"HGB < 126","t":56,"s":0.787},{"g":"HGB < 126","t":57,"s":0.787},{"g":"HGB < 126","t":61,"s":0.787},{"g":"HGB < 126","t":62,"s":0.787},{"g":"HGB < 126","t":63,"s":0.787},{"g":"HGB < 126","t":68,"s":0.787},{"g":"HGB < 126","t":71,"s":0.787}],
"E_OS_r":[{"g":"HGB >= 126","t":0,"n":"104 (100)"},{"g":"HGB >= 126","t":10,"n":"104 (100)"},{"g":"HGB >= 126","t":20,"n":"103 (99)"},{"g":"HGB >= 126","t":30,"n":"98 (94)"},{"g":"HGB >= 126","t":40,"n":"52 (50)"},{"g":"HGB >= 126","t":50,"n":"20 (19)"},{"g":"HGB >= 126","t":60,"n":"4 (4)"},{"g":"HGB >= 126","t":70,"n":"0 (0)"},
{"g":"HGB < 126","t":0,"n":"88 (100)"},{"g":"HGB < 126","t":10,"n":"88 (100)"},{"g":"HGB < 126","t":20,"n":"84 (95)"},{"g":"HGB < 126","t":30,"n":"75 (85)"},{"g":"HGB < 126","t":40,"n":"44 (50)"},{"g":"HGB < 126","t":50,"n":"14 (16)"},{"g":"HGB < 126","t":60,"n":"6 (7)"},{"g":"HGB < 126","t":70,"n":"1 (1)"}],
"E_PFS":[{"g":"HGB >= 126","t":0,"s":1},{"g":"HGB >= 126","t":4,"s":0.99},{"g":"HGB >= 126","t":13,"s":0.98},{"g":"HGB >= 126","t":16,"s":0.97},{"g":"HGB >= 126","t":18,"s":0.96},{"g":"HGB >= 126","t":21,"s":0.95},{"g":"HGB >= 126","t":22,"s":0.94},{"g":"HGB >= 126","t":23,"s":0.934},{"g":"HGB >= 126","t":44,"s":0.906},{"g":"HGB >= 126","t":68,"s":0.906},
{"g":"HGB < 126","t":0,"s":1},{"g":"HGB < 126","t":11,"s":0.965},{"g":"HGB < 126","t":12,"s":0.938},{"g":"HGB < 126","t":13,"s":0.92},{"g":"HGB < 126","t":14,"s":0.906},{"g":"HGB < 126","t":16,"s":0.89},{"g":"HGB < 126","t":19,"s":0.874},{"g":"HGB < 126","t":22,"s":0.855},{"g":"HGB < 126","t":23,"s":0.84},{"g":"HGB < 126","t":25,"s":0.806},{"g":"HGB < 126","t":29,"s":0.795},{"g":"HGB < 126","t":31,"s":0.785},{"g":"HGB < 126","t":35,"s":0.757},{"g":"HGB < 126","t":43,"s":0.73},{"g":"HGB < 126","t":45,"s":0.7},{"g":"HGB < 126","t":46,"s":0.662},{"g":"HGB < 126","t":49,"s":0.619},{"g":"HGB < 126","t":71,"s":0.619}],
"E_PFS_c":[{"g":"HGB >= 126","t":21.5,"s":0.95},{"g":"HGB >= 126","t":29,"s":0.934},{"g":"HGB >= 126","t":30,"s":0.934},{"g":"HGB >= 126","t":31,"s":0.934},{"g":"HGB >= 126","t":32,"s":0.934},{"g":"HGB >= 126","t":33,"s":0.934},{"g":"HGB >= 126","t":34,"s":0.934},{"g":"HGB >= 126","t":35,"s":0.934},{"g":"HGB >= 126","t":36,"s":0.934},{"g":"HGB >= 126","t":37,"s":0.934},{"g":"HGB >= 126","t":38,"s":0.934},{"g":"HGB >= 126","t":39,"s":0.934},{"g":"HGB >= 126","t":40,"s":0.934},{"g":"HGB >= 126","t":41,"s":0.934},{"g":"HGB >= 126","t":42,"s":0.934},{"g":"HGB >= 126","t":43,"s":0.934},{"g":"HGB >= 126","t":45,"s":0.906},{"g":"HGB >= 126","t":46,"s":0.906},{"g":"HGB >= 126","t":47,"s":0.906},{"g":"HGB >= 126","t":48,"s":0.906},{"g":"HGB >= 126","t":49,"s":0.906},{"g":"HGB >= 126","t":50,"s":0.906},{"g":"HGB >= 126","t":51,"s":0.906},{"g":"HGB >= 126","t":52,"s":0.906},{"g":"HGB >= 126","t":53,"s":0.906},{"g":"HGB >= 126","t":54,"s":0.906},{"g":"HGB >= 126","t":55,"s":0.906},{"g":"HGB >= 126","t":56,"s":0.906},{"g":"HGB >= 126","t":58,"s":0.906},{"g":"HGB >= 126","t":59,"s":0.906},{"g":"HGB >= 126","t":62,"s":0.906},{"g":"HGB >= 126","t":66,"s":0.906},{"g":"HGB >= 126","t":68,"s":0.906},
{"g":"HGB < 126","t":29.5,"s":0.795},{"g":"HGB < 126","t":30,"s":0.795},{"g":"HGB < 126","t":31.5,"s":0.785},{"g":"HGB < 126","t":32,"s":0.785},{"g":"HGB < 126","t":33,"s":0.785},{"g":"HGB < 126","t":36,"s":0.757},{"g":"HGB < 126","t":37,"s":0.757},{"g":"HGB < 126","t":38,"s":0.757},{"g":"HGB < 126","t":39,"s":0.757},{"g":"HGB < 126","t":40,"s":0.757},{"g":"HGB < 126","t":41,"s":0.757},{"g":"HGB < 126","t":42,"s":0.757},{"g":"HGB < 126","t":43.5,"s":0.73},{"g":"HGB < 126","t":44,"s":0.73},{"g":"HGB < 126","t":47,"s":0.662},{"g":"HGB < 126","t":50,"s":0.619},{"g":"HGB < 126","t":52,"s":0.619},{"g":"HGB < 126","t":53,"s":0.619},{"g":"HGB < 126","t":56,"s":0.619},{"g":"HGB < 126","t":57,"s":0.619},{"g":"HGB < 126","t":61,"s":0.619},{"g":"HGB < 126","t":62,"s":0.619},{"g":"HGB < 126","t":63,"s":0.619},{"g":"HGB < 126","t":68,"s":0.619},{"g":"HGB < 126","t":71,"s":0.619}],
"E_PFS_r":[{"g":"HGB >= 126","t":0,"n":"104 (100)"},{"g":"HGB >= 126","t":10,"n":"103 (99)"},{"g":"HGB >= 126","t":20,"n":"99 (95)"},{"g":"HGB >= 126","t":30,"n":"95 (91)"},{"g":"HGB >= 126","t":40,"n":"51 (49)"},{"g":"HGB >= 126","t":50,"n":"20 (19)"},{"g":"HGB >= 126","t":60,"n":"4 (4)"},{"g":"HGB >= 126","t":70,"n":"0 (0)"},{"g":"HGB >= 126","t":80,"n":"0 (0)"},
{"g":"HGB < 126","t":0,"n":"88 (100)"},{"g":"HGB < 126","t":10,"n":"88 (100)"},{"g":"HGB < 126","t":20,"n":"77 (88)"},{"g":"HGB < 126","t":30,"n":"68 (77)"},{"g":"HGB < 126","t":40,"n":"38 (43)"},{"g":"HGB < 126","t":50,"n":"12 (14)"},{"g":"HGB < 126","t":60,"n":"6 (7)"},{"g":"HGB < 126","t":70,"n":"1 (1)"},{"g":"HGB < 126","t":80,"n":"0 (0)"}]
},
"concat":[
{"title":{"text":"A","frame":"bounds","font":"Liberation Serif","fontSize":17,"fontWeight":"bold","offset":-20,"dx":8},
 "spacing":4,"resolve":{"scale":{"color":"independent","x":"independent","y":"independent"}},
 "vconcat":[
 {"width":280,"height":155,"layer":[
  {"data":{"name":"A_OS"},"mark":"line","encoding":{
   "x":{"field":"t","type":"quantitative","scale":{"domain":[-3.5,73.5],"nice":false,"zero":false},"axis":{"title":"Months","tickCount":100,"labelOverlap":false,"values":[0,5,10,15,20,25,30,35,40,45,50,55,60,65,70],"labelExpr":"datum.value % 10 == 0 ? datum.label : ''","gridColor":{"condition":{"test":"datum.value % 10 != 0","value":"#EDEDED"},"value":"#DCDCDC"},"tickOpacity":{"condition":{"test":"datum.value % 10 != 0","value":0},"value":1}}},
   "y":{"field":"s","type":"quantitative","scale":{"domain":[-0.05,1.05],"nice":false,"zero":false},"axis":{"title":"OS Probability","tickCount":100,"labelOverlap":false,"values":[0,0.125,0.25,0.375,0.5,0.625,0.75,0.875,1],"labelExpr":"(datum.value*4) % 1 == 0 ? format(datum.value,'.2f') : ''","gridColor":{"condition":{"test":"(datum.value*4) % 1 != 0","value":"#EDEDED"},"value":"#DCDCDC"},"tickOpacity":{"condition":{"test":"(datum.value*4) % 1 != 0","value":0},"value":1}}},
   "color":{"field":"g","type":"nominal","scale":{"domain":["SCC","non-SCC"],"range":["#E31A1C","#2C5AA0"]},"legend":{"title":null,"legendX":117}}}},
  {"data":{"name":"A_OS_c"},"mark":"point","encoding":{"x":{"field":"t","type":"quantitative"},"y":{"field":"s","type":"quantitative"},"color":{"field":"g","type":"nominal"}}},
  {"data":{"name":"pval"},"transform":[{"filter":"datum.p == 'A_OS'"}],"mark":{"type":"text","align":"left","fontSize":6.3},"encoding":{"x":{"datum":1.5},"y":{"datum":0.2},"text":{"field":"label"}}}
 ]},
 {"width":280,"height":33,"title":{"text":"Number at risk: n (%)"},"data":{"name":"A_OS_r"},"mark":"text","encoding":{
   "x":{"field":"t","type":"quantitative","scale":{"domain":[-3.5,73.5],"nice":false,"zero":false},"axis":null},
   "y":{"field":"g","type":"nominal","scale":{"type":"point","domain":["SCC","non-SCC"],"padding":0.55},"axis":{"title":null,"ticks":false,"labelPadding":2,"labelColor":{"condition":{"test":"datum.value == 'SCC'","value":"#E31A1C"},"value":"#2C5AA0"}}},
   "text":{"field":"n"}}}
 ]},
{"spacing":4,"resolve":{"scale":{"color":"independent","x":"independent","y":"independent"}},
 "vconcat":[
 {"width":298,"height":155,"layer":[
  {"data":{"name":"A_PFS"},"mark":"line","encoding":{
   "x":{"field":"t","type":"quantitative","scale":{"domain":[-4,84],"nice":false,"zero":false},"axis":{"title":"Months","tickCount":100,"labelOverlap":false,"values":[0,5,10,15,20,25,30,35,40,45,50,55,60,65,70,75,80],"labelExpr":"datum.value % 10 == 0 ? datum.label : ''","gridColor":{"condition":{"test":"datum.value % 10 != 0","value":"#EDEDED"},"value":"#DCDCDC"},"tickOpacity":{"condition":{"test":"datum.value % 10 != 0","value":0},"value":1}}},
   "y":{"field":"s","type":"quantitative","scale":{"domain":[-0.05,1.05],"nice":false,"zero":false},"axis":{"title":"PFS Probability","tickCount":100,"labelOverlap":false,"values":[0,0.125,0.25,0.375,0.5,0.625,0.75,0.875,1],"labelExpr":"(datum.value*4) % 1 == 0 ? format(datum.value,'.2f') : ''","gridColor":{"condition":{"test":"(datum.value*4) % 1 != 0","value":"#EDEDED"},"value":"#DCDCDC"},"tickOpacity":{"condition":{"test":"(datum.value*4) % 1 != 0","value":0},"value":1}}},
   "color":{"field":"g","type":"nominal","scale":{"domain":["SCC","non-SCC"],"range":["#E31A1C","#2C5AA0"]},"legend":{"title":null,"legendX":126}}}},
  {"data":{"name":"A_PFS_c"},"mark":"point","encoding":{"x":{"field":"t","type":"quantitative"},"y":{"field":"s","type":"quantitative"},"color":{"field":"g","type":"nominal"}}},
  {"data":{"name":"pval"},"transform":[{"filter":"datum.p == 'A_PFS'"}],"mark":{"type":"text","align":"left","fontSize":6.3},"encoding":{"x":{"datum":1.5},"y":{"datum":0.2},"text":{"field":"label"}}}
 ]},
 {"width":298,"height":33,"title":{"text":"Number at risk: n (%)"},"data":{"name":"A_PFS_r"},"mark":"text","encoding":{
   "x":{"field":"t","type":"quantitative","scale":{"domain":[-4,84],"nice":false,"zero":false},"axis":null},
   "y":{"field":"g","type":"nominal","scale":{"type":"point","domain":["SCC","non-SCC"],"padding":0.55},"axis":{"title":null,"ticks":false,"labelPadding":2,"labelColor":{"condition":{"test":"datum.value == 'SCC'","value":"#E31A1C"},"value":"#2C5AA0"}}},
   "text":{"field":"n"}}}
 ]},
{"title":{"text":"B","frame":"bounds","font":"Liberation Serif","fontSize":17,"fontWeight":"bold","offset":-20,"dx":8},
 "spacing":4,"resolve":{"scale":{"color":"independent","x":"independent","y":"independent"}},
 "vconcat":[
 {"width":280,"height":155,"layer":[
  {"data":{"name":"B_OS"},"mark":"line","encoding":{
   "x":{"field":"t","type":"quantitative","scale":{"domain":[-3.5,73.5],"nice":false,"zero":false},"axis":{"title":"Months","tickCount":100,"labelOverlap":false,"values":[0,5,10,15,20,25,30,35,40,45,50,55,60,65,70],"labelExpr":"datum.value % 10 == 0 ? datum.label : ''","gridColor":{"condition":{"test":"datum.value % 10 != 0","value":"#EDEDED"},"value":"#DCDCDC"},"tickOpacity":{"condition":{"test":"datum.value % 10 != 0","value":0},"value":1}}},
   "y":{"field":"s","type":"quantitative","scale":{"domain":[-0.05,1.05],"nice":false,"zero":false},"axis":{"title":"OS Probability","tickCount":100,"labelOverlap":false,"values":[0,0.125,0.25,0.375,0.5,0.625,0.75,0.875,1],"labelExpr":"(datum.value*4) % 1 == 0 ? format(datum.value,'.2f') : ''","gridColor":{"condition":{"test":"(datum.value*4) % 1 != 0","value":"#EDEDED"},"value":"#DCDCDC"},"tickOpacity":{"condition":{"test":"(datum.value*4) % 1 != 0","value":0},"value":1}}},
   "color":{"field":"g","type":"nominal","scale":{"domain":["stage IIB","stage IIIA – IVA"],"range":["#E31A1C","#2C5AA0"]},"legend":{"title":null,"legendX":105}}}},
  {"data":{"name":"B_OS_c"},"mark":"point","encoding":{"x":{"field":"t","type":"quantitative"},"y":{"field":"s","type":"quantitative"},"color":{"field":"g","type":"nominal"}}},
  {"data":{"name":"pval"},"transform":[{"filter":"datum.p == 'B_OS'"}],"mark":{"type":"text","align":"left","fontSize":6.3},"encoding":{"x":{"datum":1.5},"y":{"datum":0.2},"text":{"field":"label"}}}
 ]},
 {"width":280,"height":33,"title":{"text":"Number at risk: n (%)"},"data":{"name":"B_OS_r"},"mark":"text","encoding":{
   "x":{"field":"t","type":"quantitative","scale":{"domain":[-3.5,73.5],"nice":false,"zero":false},"axis":null},
   "y":{"field":"g","type":"nominal","scale":{"type":"point","domain":["stage IIB","stage IIIA – IVA"],"padding":0.55},"axis":{"title":null,"ticks":false,"labelPadding":2,"labelColor":{"condition":{"test":"datum.value == 'stage IIB'","value":"#E31A1C"},"value":"#2C5AA0"}}},
   "text":{"field":"n"}}}
 ]},
{"spacing":4,"resolve":{"scale":{"color":"independent","x":"independent","y":"independent"}},
 "vconcat":[
 {"width":298,"height":155,"layer":[
  {"data":{"name":"B_PFS"},"mark":"line","encoding":{
   "x":{"field":"t","type":"quantitative","scale":{"domain":[-4,84],"nice":false,"zero":false},"axis":{"title":"Months","tickCount":100,"labelOverlap":false,"values":[0,5,10,15,20,25,30,35,40,45,50,55,60,65,70,75,80],"labelExpr":"datum.value % 10 == 0 ? datum.label : ''","gridColor":{"condition":{"test":"datum.value % 10 != 0","value":"#EDEDED"},"value":"#DCDCDC"},"tickOpacity":{"condition":{"test":"datum.value % 10 != 0","value":0},"value":1}}},
   "y":{"field":"s","type":"quantitative","scale":{"domain":[-0.05,1.05],"nice":false,"zero":false},"axis":{"title":"PFS Probability","tickCount":100,"labelOverlap":false,"values":[0,0.125,0.25,0.375,0.5,0.625,0.75,0.875,1],"labelExpr":"(datum.value*4) % 1 == 0 ? format(datum.value,'.2f') : ''","gridColor":{"condition":{"test":"(datum.value*4) % 1 != 0","value":"#EDEDED"},"value":"#DCDCDC"},"tickOpacity":{"condition":{"test":"(datum.value*4) % 1 != 0","value":0},"value":1}}},
   "color":{"field":"g","type":"nominal","scale":{"domain":["stage IIB","stage IIIA – IVA"],"range":["#E31A1C","#2C5AA0"]},"legend":{"title":null,"legendX":114}}}},
  {"data":{"name":"B_PFS_c"},"mark":"point","encoding":{"x":{"field":"t","type":"quantitative"},"y":{"field":"s","type":"quantitative"},"color":{"field":"g","type":"nominal"}}},
  {"data":{"name":"pval"},"transform":[{"filter":"datum.p == 'B_PFS'"}],"mark":{"type":"text","align":"left","fontSize":6.3},"encoding":{"x":{"datum":1.5},"y":{"datum":0.2},"text":{"field":"label"}}}
 ]},
 {"width":298,"height":33,"title":{"text":"Number at risk: n (%)"},"data":{"name":"B_PFS_r"},"mark":"text","encoding":{
   "x":{"field":"t","type":"quantitative","scale":{"domain":[-4,84],"nice":false,"zero":false},"axis":null},
   "y":{"field":"g","type":"nominal","scale":{"type":"point","domain":["stage IIB","stage IIIA – IVA"],"padding":0.55},"axis":{"title":null,"ticks":false,"labelPadding":2,"labelColor":{"condition":{"test":"datum.value == 'stage IIB'","value":"#E31A1C"},"value":"#2C5AA0"}}},
   "text":{"field":"n"}}}
 ]},
{"title":{"text":"C","frame":"bounds","font":"Liberation Serif","fontSize":17,"fontWeight":"bold","offset":-20,"dx":8},
 "spacing":4,"resolve":{"scale":{"color":"independent","x":"independent","y":"independent"}},
 "vconcat":[
 {"width":280,"height":155,"layer":[
  {"data":{"name":"C_OS"},"mark":"line","encoding":{
   "x":{"field":"t","type":"quantitative","scale":{"domain":[-3.5,73.5],"nice":false,"zero":false},"axis":{"title":"Months","tickCount":100,"labelOverlap":false,"values":[0,5,10,15,20,25,30,35,40,45,50,55,60,65,70],"labelExpr":"datum.value % 10 == 0 ? datum.label : ''","gridColor":{"condition":{"test":"datum.value % 10 != 0","value":"#EDEDED"},"value":"#DCDCDC"},"tickOpacity":{"condition":{"test":"datum.value % 10 != 0","value":0},"value":1}}},
   "y":{"field":"s","type":"quantitative","scale":{"domain":[-0.05,1.05],"nice":false,"zero":false},"axis":{"title":"OS Probability","tickCount":100,"labelOverlap":false,"values":[0,0.125,0.25,0.375,0.5,0.625,0.75,0.875,1],"labelExpr":"(datum.value*4) % 1 == 0 ? format(datum.value,'.2f') : ''","gridColor":{"condition":{"test":"(datum.value*4) % 1 != 0","value":"#EDEDED"},"value":"#DCDCDC"},"tickOpacity":{"condition":{"test":"(datum.value*4) % 1 != 0","value":0},"value":1}}},
   "color":{"field":"g","type":"nominal","scale":{"domain":["negative","positive"],"range":["#E31A1C","#2C5AA0"]},"legend":{"title":null,"legendX":113}}}},
  {"data":{"name":"C_OS_c"},"mark":"point","encoding":{"x":{"field":"t","type":"quantitative"},"y":{"field":"s","type":"quantitative"},"color":{"field":"g","type":"nominal"}}},
  {"data":{"name":"pval"},"transform":[{"filter":"datum.p == 'C_OS'"}],"mark":{"type":"text","align":"left","fontSize":6.3},"encoding":{"x":{"datum":1.5},"y":{"datum":0.2},"text":{"field":"label"}}}
 ]},
 {"width":280,"height":33,"title":{"text":"Number at risk: n (%)"},"data":{"name":"C_OS_r"},"mark":"text","encoding":{
   "x":{"field":"t","type":"quantitative","scale":{"domain":[-3.5,73.5],"nice":false,"zero":false},"axis":null},
   "y":{"field":"g","type":"nominal","scale":{"type":"point","domain":["negative","positive"],"padding":0.55},"axis":{"title":null,"ticks":false,"labelPadding":2,"labelColor":{"condition":{"test":"datum.value == 'negative'","value":"#E31A1C"},"value":"#2C5AA0"}}},
   "text":{"field":"n"}}}
 ]},
{"spacing":4,"resolve":{"scale":{"color":"independent","x":"independent","y":"independent"}},
 "vconcat":[
 {"width":298,"height":155,"layer":[
  {"data":{"name":"C_PFS"},"mark":"line","encoding":{
   "x":{"field":"t","type":"quantitative","scale":{"domain":[-4,84],"nice":false,"zero":false},"axis":{"title":"Months","tickCount":100,"labelOverlap":false,"values":[0,5,10,15,20,25,30,35,40,45,50,55,60,65,70,75,80],"labelExpr":"datum.value % 10 == 0 ? datum.label : ''","gridColor":{"condition":{"test":"datum.value % 10 != 0","value":"#EDEDED"},"value":"#DCDCDC"},"tickOpacity":{"condition":{"test":"datum.value % 10 != 0","value":0},"value":1}}},
   "y":{"field":"s","type":"quantitative","scale":{"domain":[-0.05,1.05],"nice":false,"zero":false},"axis":{"title":"PFS Probability","tickCount":100,"labelOverlap":false,"values":[0,0.125,0.25,0.375,0.5,0.625,0.75,0.875,1],"labelExpr":"(datum.value*4) % 1 == 0 ? format(datum.value,'.2f') : ''","gridColor":{"condition":{"test":"(datum.value*4) % 1 != 0","value":"#EDEDED"},"value":"#DCDCDC"},"tickOpacity":{"condition":{"test":"(datum.value*4) % 1 != 0","value":0},"value":1}}},
   "color":{"field":"g","type":"nominal","scale":{"domain":["negative","positive"],"range":["#E31A1C","#2C5AA0"]},"legend":{"title":null,"legendX":122}}}},
  {"data":{"name":"C_PFS_c"},"mark":"point","encoding":{"x":{"field":"t","type":"quantitative"},"y":{"field":"s","type":"quantitative"},"color":{"field":"g","type":"nominal"}}},
  {"data":{"name":"pval"},"transform":[{"filter":"datum.p == 'C_PFS'"}],"mark":{"type":"text","align":"left","fontSize":6.3},"encoding":{"x":{"datum":1.5},"y":{"datum":0.2},"text":{"field":"label"}}}
 ]},
 {"width":298,"height":33,"title":{"text":"Number at risk: n (%)"},"data":{"name":"C_PFS_r"},"mark":"text","encoding":{
   "x":{"field":"t","type":"quantitative","scale":{"domain":[-4,84],"nice":false,"zero":false},"axis":null},
   "y":{"field":"g","type":"nominal","scale":{"type":"point","domain":["negative","positive"],"padding":0.55},"axis":{"title":null,"ticks":false,"labelPadding":2,"labelColor":{"condition":{"test":"datum.value == 'negative'","value":"#E31A1C"},"value":"#2C5AA0"}}},
   "text":{"field":"n"}}}
 ]},
{"title":{"text":"D","frame":"bounds","font":"Liberation Serif","fontSize":17,"fontWeight":"bold","offset":-20,"dx":8},
 "spacing":4,"resolve":{"scale":{"color":"independent","x":"independent","y":"independent"}},
 "vconcat":[
 {"width":280,"height":155,"layer":[
  {"data":{"name":"D_OS"},"mark":"line","encoding":{
   "x":{"field":"t","type":"quantitative","scale":{"domain":[-3.5,73.5],"nice":false,"zero":false},"axis":{"title":"Months","tickCount":100,"labelOverlap":false,"values":[0,5,10,15,20,25,30,35,40,45,50,55,60,65,70],"labelExpr":"datum.value % 10 == 0 ? datum.label : ''","gridColor":{"condition":{"test":"datum.value % 10 != 0","value":"#EDEDED"},"value":"#DCDCDC"},"tickOpacity":{"condition":{"test":"datum.value % 10 != 0","value":0},"value":1}}},
   "y":{"field":"s","type":"quantitative","scale":{"domain":[-0.05,1.05],"nice":false,"zero":false},"axis":{"title":"OS Probability","tickCount":100,"labelOverlap":false,"values":[0,0.125,0.25,0.375,0.5,0.625,0.75,0.875,1],"labelExpr":"(datum.value*4) % 1 == 0 ? format(datum.value,'.2f') : ''","gridColor":{"condition":{"test":"(datum.value*4) % 1 != 0","value":"#EDEDED"},"value":"#DCDCDC"},"tickOpacity":{"condition":{"test":"(datum.value*4) % 1 != 0","value":0},"value":1}}},
   "color":{"field":"g","type":"nominal","scale":{"domain":["negative","positive"],"range":["#E31A1C","#2C5AA0"]},"legend":{"title":null,"legendX":113}}}},
  {"data":{"name":"D_OS_c"},"mark":"point","encoding":{"x":{"field":"t","type":"quantitative"},"y":{"field":"s","type":"quantitative"},"color":{"field":"g","type":"nominal"}}},
  {"data":{"name":"pval"},"transform":[{"filter":"datum.p == 'D_OS'"}],"mark":{"type":"text","align":"left","fontSize":6.3},"encoding":{"x":{"datum":1.5},"y":{"datum":0.2},"text":{"field":"label"}}}
 ]},
 {"width":280,"height":33,"title":{"text":"Number at risk: n (%)"},"data":{"name":"D_OS_r"},"mark":"text","encoding":{
   "x":{"field":"t","type":"quantitative","scale":{"domain":[-3.5,73.5],"nice":false,"zero":false},"axis":null},
   "y":{"field":"g","type":"nominal","scale":{"type":"point","domain":["negative","positive"],"padding":0.55},"axis":{"title":null,"ticks":false,"labelPadding":2,"labelColor":{"condition":{"test":"datum.value == 'negative'","value":"#E31A1C"},"value":"#2C5AA0"}}},
   "text":{"field":"n"}}}
 ]},
{"spacing":4,"resolve":{"scale":{"color":"independent","x":"independent","y":"independent"}},
 "vconcat":[
 {"width":298,"height":155,"layer":[
  {"data":{"name":"D_PFS"},"mark":"line","encoding":{
   "x":{"field":"t","type":"quantitative","scale":{"domain":[-4,84],"nice":false,"zero":false},"axis":{"title":"Months","tickCount":100,"labelOverlap":false,"values":[0,5,10,15,20,25,30,35,40,45,50,55,60,65,70,75,80],"labelExpr":"datum.value % 10 == 0 ? datum.label : ''","gridColor":{"condition":{"test":"datum.value % 10 != 0","value":"#EDEDED"},"value":"#DCDCDC"},"tickOpacity":{"condition":{"test":"datum.value % 10 != 0","value":0},"value":1}}},
   "y":{"field":"s","type":"quantitative","scale":{"domain":[-0.05,1.05],"nice":false,"zero":false},"axis":{"title":"PFS Probability","tickCount":100,"labelOverlap":false,"values":[0,0.125,0.25,0.375,0.5,0.625,0.75,0.875,1],"labelExpr":"(datum.value*4) % 1 == 0 ? format(datum.value,'.2f') : ''","gridColor":{"condition":{"test":"(datum.value*4) % 1 != 0","value":"#EDEDED"},"value":"#DCDCDC"},"tickOpacity":{"condition":{"test":"(datum.value*4) % 1 != 0","value":0},"value":1}}},
   "color":{"field":"g","type":"nominal","scale":{"domain":["negative","positive"],"range":["#E31A1C","#2C5AA0"]},"legend":{"title":null,"legendX":122}}}},
  {"data":{"name":"D_PFS_c"},"mark":"point","encoding":{"x":{"field":"t","type":"quantitative"},"y":{"field":"s","type":"quantitative"},"color":{"field":"g","type":"nominal"}}},
  {"data":{"name":"pval"},"transform":[{"filter":"datum.p == 'D_PFS'"}],"mark":{"type":"text","align":"left","fontSize":6.3},"encoding":{"x":{"datum":1.5},"y":{"datum":0.2},"text":{"field":"label"}}}
 ]},
 {"width":298,"height":33,"title":{"text":"Number at risk: n (%)"},"data":{"name":"D_PFS_r"},"mark":"text","encoding":{
   "x":{"field":"t","type":"quantitative","scale":{"domain":[-4,84],"nice":false,"zero":false},"axis":null},
   "y":{"field":"g","type":"nominal","scale":{"type":"point","domain":["negative","positive"],"padding":0.55},"axis":{"title":null,"ticks":false,"labelPadding":2,"labelColor":{"condition":{"test":"datum.value == 'negative'","value":"#E31A1C"},"value":"#2C5AA0"}}},
   "text":{"field":"n"}}}
 ]},
{"title":{"text":"E","frame":"bounds","font":"Liberation Serif","fontSize":17,"fontWeight":"bold","offset":-20,"dx":8},
 "spacing":4,"resolve":{"scale":{"color":"independent","x":"independent","y":"independent"}},
 "vconcat":[
 {"width":280,"height":155,"layer":[
  {"data":{"name":"E_OS"},"mark":"line","encoding":{
   "x":{"field":"t","type":"quantitative","scale":{"domain":[-3.5,73.5],"nice":false,"zero":false},"axis":{"title":"Months","tickCount":100,"labelOverlap":false,"values":[0,5,10,15,20,25,30,35,40,45,50,55,60,65,70],"labelExpr":"datum.value % 10 == 0 ? datum.label : ''","gridColor":{"condition":{"test":"datum.value % 10 != 0","value":"#EDEDED"},"value":"#DCDCDC"},"tickOpacity":{"condition":{"test":"datum.value % 10 != 0","value":0},"value":1}}},
   "y":{"field":"s","type":"quantitative","scale":{"domain":[-0.05,1.05],"nice":false,"zero":false},"axis":{"title":"OS Probability","tickCount":100,"labelOverlap":false,"values":[0,0.125,0.25,0.375,0.5,0.625,0.75,0.875,1],"labelExpr":"(datum.value*4) % 1 == 0 ? format(datum.value,'.2f') : ''","gridColor":{"condition":{"test":"(datum.value*4) % 1 != 0","value":"#EDEDED"},"value":"#DCDCDC"},"tickOpacity":{"condition":{"test":"(datum.value*4) % 1 != 0","value":0},"value":1}}},
   "color":{"field":"g","type":"nominal","scale":{"domain":["HGB >= 126","HGB < 126"],"range":["#E31A1C","#2C5AA0"]},"legend":{"title":null,"legendX":108}}}},
  {"data":{"name":"E_OS_c"},"mark":"point","encoding":{"x":{"field":"t","type":"quantitative"},"y":{"field":"s","type":"quantitative"},"color":{"field":"g","type":"nominal"}}},
  {"data":{"name":"pval"},"transform":[{"filter":"datum.p == 'E_OS'"}],"mark":{"type":"text","align":"left","fontSize":6.3},"encoding":{"x":{"datum":1.5},"y":{"datum":0.2},"text":{"field":"label"}}}
 ]},
 {"width":280,"height":33,"title":{"text":"Number at risk: n (%)"},"data":{"name":"E_OS_r"},"mark":"text","encoding":{
   "x":{"field":"t","type":"quantitative","scale":{"domain":[-3.5,73.5],"nice":false,"zero":false},"axis":null},
   "y":{"field":"g","type":"nominal","scale":{"type":"point","domain":["HGB >= 126","HGB < 126"],"padding":0.55},"axis":{"title":null,"ticks":false,"labelPadding":2,"labelColor":{"condition":{"test":"datum.value == 'HGB >= 126'","value":"#E31A1C"},"value":"#2C5AA0"}}},
   "text":{"field":"n"}}}
 ]},
{"spacing":4,"resolve":{"scale":{"color":"independent","x":"independent","y":"independent"}},
 "vconcat":[
 {"width":298,"height":155,"layer":[
  {"data":{"name":"E_PFS"},"mark":"line","encoding":{
   "x":{"field":"t","type":"quantitative","scale":{"domain":[-4,84],"nice":false,"zero":false},"axis":{"title":"Months","tickCount":100,"labelOverlap":false,"values":[0,5,10,15,20,25,30,35,40,45,50,55,60,65,70,75,80],"labelExpr":"datum.value % 10 == 0 ? datum.label : ''","gridColor":{"condition":{"test":"datum.value % 10 != 0","value":"#EDEDED"},"value":"#DCDCDC"},"tickOpacity":{"condition":{"test":"datum.value % 10 != 0","value":0},"value":1}}},
   "y":{"field":"s","type":"quantitative","scale":{"domain":[-0.05,1.05],"nice":false,"zero":false},"axis":{"title":"PFS Probability","tickCount":100,"labelOverlap":false,"values":[0,0.125,0.25,0.375,0.5,0.625,0.75,0.875,1],"labelExpr":"(datum.value*4) % 1 == 0 ? format(datum.value,'.2f') : ''","gridColor":{"condition":{"test":"(datum.value*4) % 1 != 0","value":"#EDEDED"},"value":"#DCDCDC"},"tickOpacity":{"condition":{"test":"(datum.value*4) % 1 != 0","value":0},"value":1}}},
   "color":{"field":"g","type":"nominal","scale":{"domain":["HGB >= 126","HGB < 126"],"range":["#E31A1C","#2C5AA0"]},"legend":{"title":null,"legendX":117}}}},
  {"data":{"name":"E_PFS_c"},"mark":"point","encoding":{"x":{"field":"t","type":"quantitative"},"y":{"field":"s","type":"quantitative"},"color":{"field":"g","type":"nominal"}}},
  {"data":{"name":"pval"},"transform":[{"filter":"datum.p == 'E_PFS'"}],"mark":{"type":"text","align":"left","fontSize":6.3},"encoding":{"x":{"datum":1.5},"y":{"datum":0.2},"text":{"field":"label"}}}
 ]},
 {"width":298,"height":33,"title":{"text":"Number at risk: n (%)"},"data":{"name":"E_PFS_r"},"mark":"text","encoding":{
   "x":{"field":"t","type":"quantitative","scale":{"domain":[-4,84],"nice":false,"zero":false},"axis":null},
   "y":{"field":"g","type":"nominal","scale":{"type":"point","domain":["HGB >= 126","HGB < 126"],"padding":0.55},"axis":{"title":null,"ticks":false,"labelPadding":2,"labelColor":{"condition":{"test":"datum.value == 'HGB >= 126'","value":"#E31A1C"},"value":"#2C5AA0"}}},
   "text":{"field":"n"}}}
 ]}
]
}
